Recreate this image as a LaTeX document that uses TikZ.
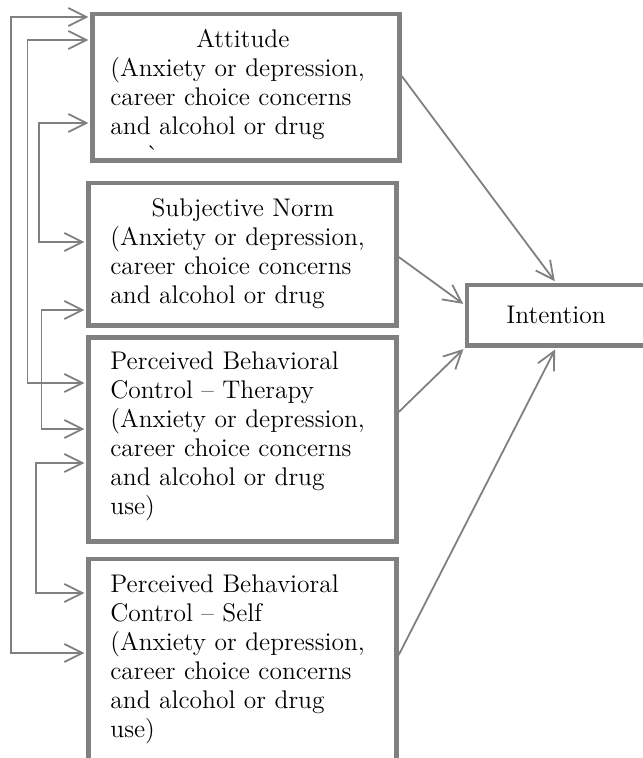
\documentclass[tikz,border=0pt]{standalone}
\usepackage{fontspec}
\usepackage{tikz}
\usetikzlibrary{arrows.meta}
\definecolor{boxgray}{RGB}{128,128,128}

\begin{document}
\begin{tikzpicture}[x=0.5pt,y=-0.5pt,
    box/.style={draw=boxgray,line width=2.2pt,inner sep=0pt,
      font=\fontsize{12.75pt}{14.5pt}\selectfont},
    txt/.style={anchor=base west,inner sep=0pt,text width=132.5pt,align=left,
      font=\fontsize{12.75pt}{14.5pt}\selectfont},
    link/.style={draw=boxgray,line width=0.9pt,
      -{Straight Barb[length=9pt,width=9pt]},shorten >=1pt},
    corr/.style={link,{Straight Barb[length=9pt,width=9pt]}-{Straight Barb[length=9pt,width=9pt]},
      shorten <=1pt}]
        \useasboundingbox (0,0) rectangle (642,758);

        % the four belief boxes
        \node[box,minimum width=153.5pt,minimum height=73.25pt] (att) at (246,87.25) {};
        \node[box,minimum width=154pt,minimum height=71.25pt] (sn) at (242.5,254.25) {};
        \node[box,minimum width=154pt,minimum height=102pt] (pbct) at (242.5,439.5) {};
        \node[box,minimum width=154pt,minimum height=100.5pt] (pbcs) at (242.5,659.5) {};
        \node[box,minimum width=89pt,minimum height=30.25pt] (int) at (556,315.25) {Intention};

        \node[txt] (attText) at (110,48) {\hfill Attitude\hfill\null\\(Anxiety or depression,\\career choice concerns\\and alcohol or drug\\\hspace*{18pt}\textasciigrave};
        \node[txt] (snText) at (110,217) {\hfill Subjective Norm\hfill\null\\(Anxiety or depression,\\career choice concerns\\and alcohol or drug};
        \node[txt] (pbctText) at (110,369) {Perceived Behavioral\\Control -- Therapy\\(Anxiety or depression,\\career choice concerns\\and alcohol or drug\\use)};
        \node[txt] (pbcsText) at (110,592) {Perceived Behavioral\\Control -- Self\\(Anxiety or depression,\\career choice concerns\\and alcohol or drug\\use)};

        % correlations on the left
        \draw[corr] (att.west |- 0,17) -| (11,300) |- (pbcs.west |- 0,653);
        \draw[corr] (att.west |- 0,40) -| (27.5,200) |- (pbct.west |- 0,383);
        \draw[corr] (att.west |- 0,123) -| (39,180) |- (sn.west |- 0,242);
        \draw[corr] (sn.west |- 0,310) -| (41.5,370) |- (pbct.west |- 0,429);
        \draw[corr] (pbct.west |- 0,463) -| (36,530) |- (pbcs.west |- 0,593);

        % paths to intention
        \draw[link] (att.east |- 0,76) -- (int.north);
        \draw[link] (sn.east |- 0,257) -- (int.west |- 0,305);
        \draw[link] (pbct.east |- 0,412) -- (int.south west);
        \draw[link] (pbcs.east |- 0,655) -- (int.south);
    \end{tikzpicture}
\end{document}
